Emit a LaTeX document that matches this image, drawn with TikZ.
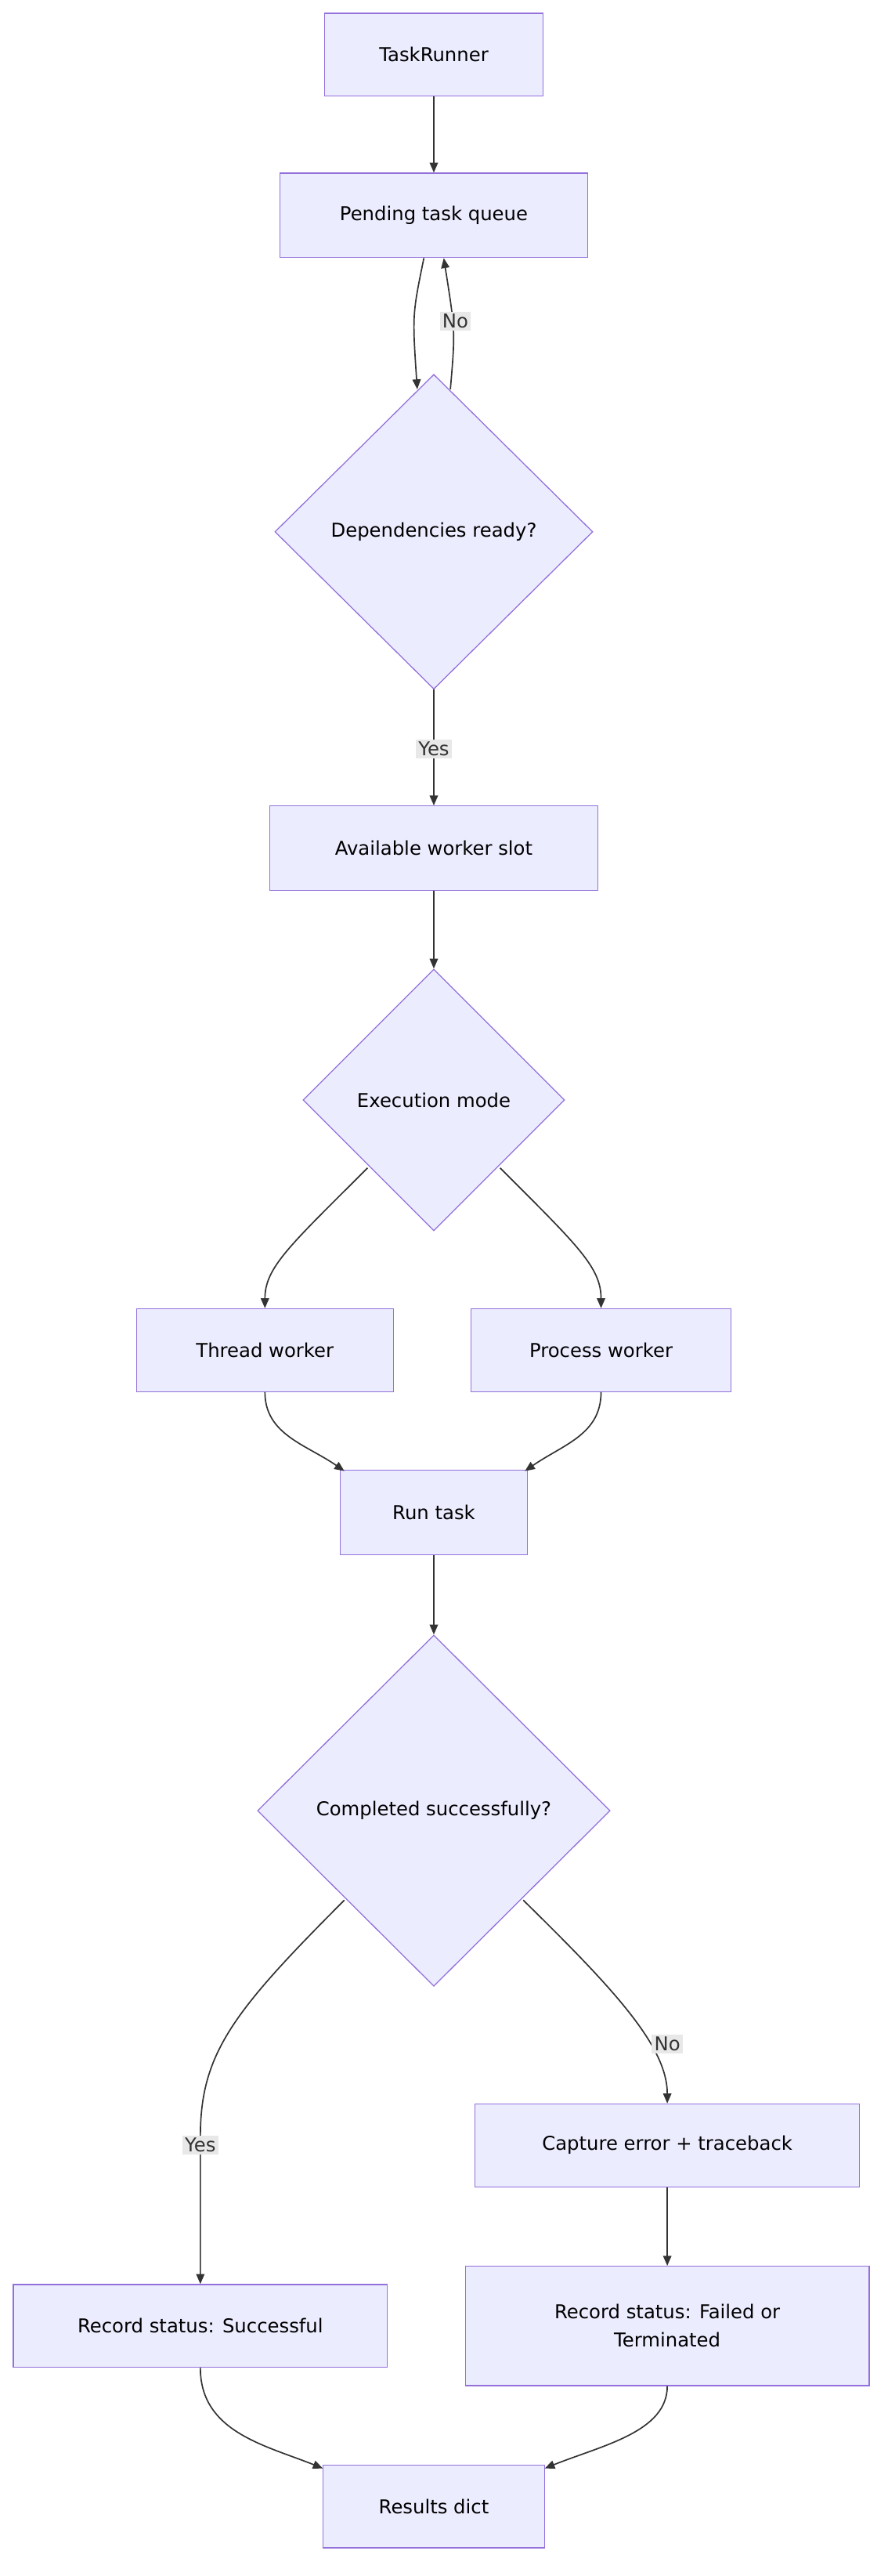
\documentclass[tikz,border=0pt]{standalone}
\usepackage{fontspec}
\setmainfont{DejaVu Sans}
\usetikzlibrary{shapes.geometric,arrows.meta}
\definecolor{nfill}{HTML}{ECECFF}
\definecolor{nline}{HTML}{9370DB}
\definecolor{eline}{HTML}{333333}
\definecolor{lbg}{HTML}{E8E8E8}
\begin{document}
\begin{tikzpicture}[x=1pt,y=-1pt,
  box/.style={draw=nline,fill=nfill,line width=0.6pt,font=\fontsize{11.5}{17}\selectfont,align=center,inner sep=0},
  dia/.style={draw=nline,fill=nfill,line width=0.6pt,shape=diamond,font=\fontsize{11.5}{14}\selectfont,inner sep=0},
  arr/.style={draw=eline,line width=0.8pt,-{Triangle[length=6pt,width=5pt]}},
  lab/.style={fill=lbg,font=\fontsize{11.5}{14}\selectfont,inner sep=1.5pt,text=eline}]
\useasboundingbox (0,0) rectangle (536,1555);
\node[box,minimum width=132,minimum height=50] (tr) at (262,33) {TaskRunner};
\node[box,minimum width=186,minimum height=51] (pq) at (262,130) {Pending task queue};
\node[dia,minimum width=192,minimum height=190] (dr) at (262,321) {Dependencies ready?};
\node[box,minimum width=198,minimum height=51] (aw) at (262,512) {Available worker slot};
\node[dia,minimum width=158,minimum height=158] (em) at (262,664) {Execution mode};
\node[box,minimum width=155,minimum height=50] (tw) at (160,815) {Thread worker};
\node[box,minimum width=157,minimum height=50] (pw) at (363,815) {Process worker};
\node[box,minimum width=113,minimum height=51] (rt) at (262,913) {Run task};
\node[dia,minimum width=213,minimum height=212] (cs) at (262,1093) {Completed successfully?};
\node[box,minimum width=232,minimum height=50] (ce) at (403,1295) {Capture error + traceback};
\node[box,minimum width=226,minimum height=50] (rs) at (121,1404) {Record status: Successful};
\node[box,minimum width=244,minimum height=72] (rf) at (403,1404) {Record status: Failed or\\Terminated};
\node[box,minimum width=134,minimum height=50] (rd) at (262,1513) {Results dict};
\coordinate (dtl) at (252,235);
\coordinate (dtr) at (272,235);
\draw[arr] (tr) -- (pq);
\draw[arr] (pq.south)++(-6,0) .. controls (249,190) .. (dtl);
\draw[arr] (dtr) .. controls (275,200) .. ([xshift=6pt]pq.south);
\node[lab] (no1) at (275,194) {No};
\draw[arr] (dr.south) -- (aw.north);
\node[lab] (yes1) at (262,452) {Yes};
\draw[arr] (aw) -- (em);
\draw[arr] (222,705) .. controls (175,752) and (160,765) .. (tw.north);
\draw[arr] (302,705) .. controls (349,752) and (363,765) .. (pw.north);
\draw[arr] (tw.south) .. controls (160,866) and (185,872) .. (208,888);
\draw[arr] (pw.south) .. controls (363,866) and (340,872) .. (317,888);
\draw[arr] (rt) -- (cs);
\draw[arr] (208,1147) .. controls (140,1215) and (121,1240) .. (121,1290) -- (rs.north);
\node[lab] (yes2) at (121,1295) {Yes};
\draw[arr] (316,1147) .. controls (370,1200) and (403,1235) .. (ce.north);
\node[lab] (no2) at (403,1234) {No};
\draw[arr] (ce) -- (rf);
\draw[arr] (rs.south) .. controls (121,1468) and (160,1476) .. (195,1490);
\draw[arr] (rf.south) .. controls (403,1468) and (364,1476) .. (329,1490);
\end{tikzpicture}
\end{document}
